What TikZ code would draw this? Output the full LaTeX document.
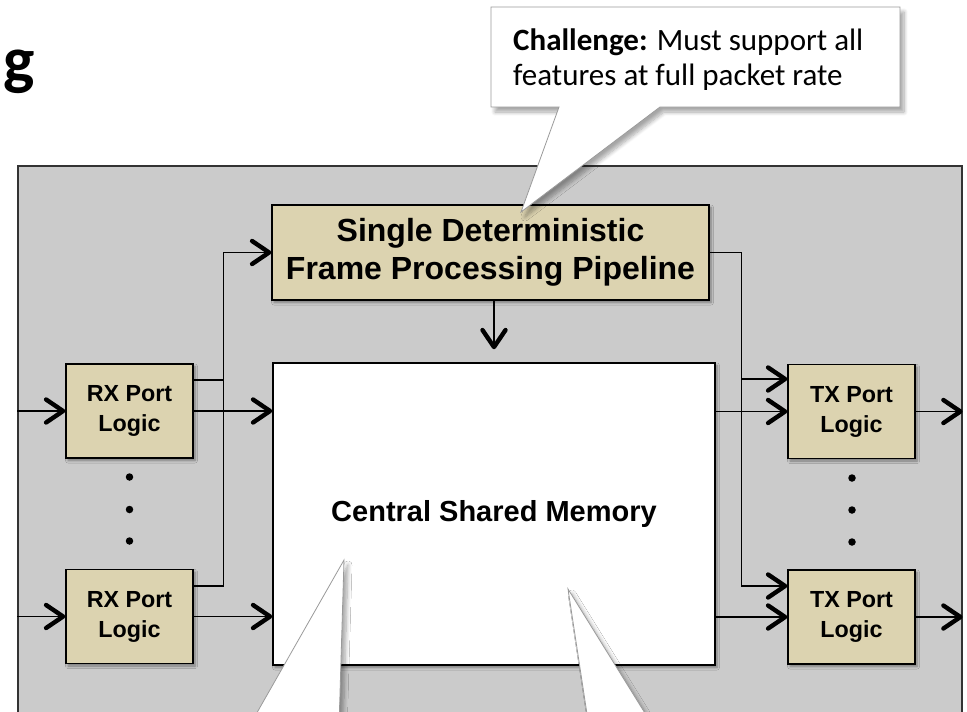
\documentclass[tikz,border=0pt]{standalone}
\usepackage{fontspec}
\newfontfamily\boxfont{Liberation Sans}
\newfontfamily\notefont{Carlito}
\usetikzlibrary{arrows.meta,shadows.blur,calc}
\definecolor{panelgray}{HTML}{CBCBCB}
\definecolor{unittan}{HTML}{DCD3B0}
\definecolor{noteline}{HTML}{9A9A9A}

\begin{document}
\begin{tikzpicture}[x=1pt,y=-1pt,
  softshadow/.style={blur shadow={shadow xshift=2pt,shadow yshift=-2.5pt,
      shadow blur radius=2.5pt,shadow blur steps=6,shadow opacity=40}},
  panel/.style={draw=black!80,line width=1.2pt,fill=panelgray,
      minimum width=944pt,minimum height=580pt,inner sep=0pt},
  unit/.style={draw=black,line width=1.4pt,fill=unittan,inner sep=0pt,
      minimum width=127pt,minimum height=94pt,align=center,softshadow,
      font=\boxfont\bfseries\fontsize{23.3}{30}\selectfont},
  pipestage/.style={unit,minimum width=437pt,minimum height=95pt,
      font=\boxfont\bfseries\fontsize{32}{38}\selectfont},
  memory/.style={draw=black,line width=1.5pt,fill=white,inner sep=0pt,
      minimum width=442pt,minimum height=302pt,softshadow,
      font=\boxfont\bfseries\fontsize{29}{34}\selectfont},
  dot/.style={circle,fill=black,inner sep=0pt,minimum size=7.5pt},
  link/.style={line width=1.3pt},
  flow/.style={link,-{Straight Barb[length=17pt,width=23pt,line width=4.4pt,round]}},
  callout/.style={fill=white,draw=noteline,line width=0.8pt,
      blur shadow={shadow xshift=4pt,shadow yshift=-5pt,
      shadow blur radius=4pt,shadow blur steps=8,shadow opacity=35}},
  notetext/.style={anchor=base west,inner sep=0pt,
      font=\notefont\fontsize{31}{35}\selectfont}
]
\clip (0,0) rectangle (967,712);

% slide title fragment
\node[anchor=base east,inner sep=0pt,
      font=\notefont\bfseries\fontsize{66}{66}\selectfont] (title) at (35,82) {g};

% switch chip
\node[panel] (sw) at (490,456) {};

% blocks
\node[unit] (rx1) at (129.5,411) {RX Port\\Logic};
\node[unit] (rx2) at (129.5,616.5) {RX Port\\Logic};
\node[unit] (tx1) at (851.5,411.5) {TX Port\\Logic};
\node[unit] (tx2) at (851.5,617) {TX Port\\Logic};
\node[pipestage] (pipe) at (490.5,252.5) {Single Deterministic\\Frame Processing Pipeline};
\node[memory] (mem) at (494,514) {Central Shared Memory};

% ellipsis dots between the port blocks
\node[dot] (rxd1) at (129.5,477) {};
\node[dot] (rxd2) at (129.5,509.5) {};
\node[dot] (rxd3) at (129.5,541) {};
\node[dot] (txd1) at (852,478) {};
\node[dot] (txd2) at (852,510) {};
\node[dot] (txd3) at (852,542) {};

% bus corners and taps
\path (pipe.west) ++(-48,0) coordinate (busL);
\path (pipe.east) ++(32,0) coordinate (busR);
\coordinate (r1up) at ([yshift=31pt]rx1.east);
\coordinate (r2up) at ([yshift=30.5pt]rx2.east);
\coordinate (t1in) at ([yshift=32.5pt]tx1.west);
\coordinate (t2in) at ([yshift=31pt]tx2.west);

% ingress
\draw[flow] (sw.west |- rx1) -- (rx1);
\draw[flow] (sw.west |- rx2) -- (rx2);
\draw[flow] (rx1) -- (rx1 -| mem.west);
\draw[flow] (rx2) -- (rx2 -| mem.west);

% headers to the pipeline
\draw[link] (r1up) -- (r1up -| busL);
\draw[flow] (r2up) -| (busL) -- (pipe.west);

% pipeline to memory
\draw[flow] (pipe.south -| mem.north) -- ([yshift=13pt]mem.north);

% pipeline decisions to the egress ports
\draw[flow] (pipe.east) -- (busR) |- (t2in);
\draw[flow] (busR |- t1in) -- (t1in);

% egress
\draw[flow] (mem.east |- tx1) -- (tx1);
\draw[flow] (mem.east |- tx2) -- (tx2);
\draw[flow] (tx1) -- (tx1 -| sw.east);
\draw[flow] (tx2) -- (tx2 -| sw.east);

% callouts
\path[callout] (491,7) -- (900,7) -- (900,107) -- (660,107) -- (521,212)
   -- (559,107) -- (491,107) -- cycle;
\node[notetext] (note1) at (513,50) {\textbf{Challenge:} Must support all};
\node[notetext] (note2) at (513,85) {features at full packet rate};

\path[callout] (344,560) -- (338,760) -- (230,760) -- cycle;
\path[callout] (568,589) -- (674,760) -- (594,760) -- cycle;
\end{tikzpicture}
\end{document}
